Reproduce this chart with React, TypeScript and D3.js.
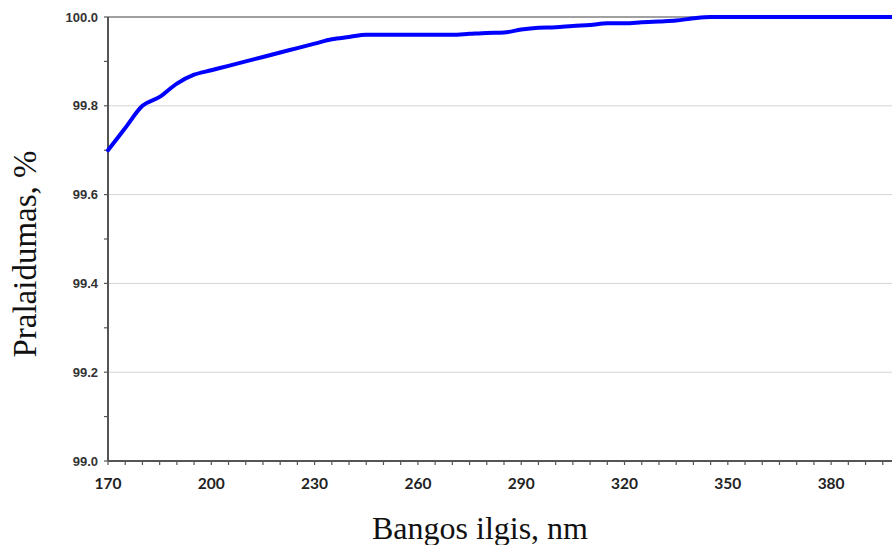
import { useEffect, useRef } from 'react';
import * as d3 from 'd3';

const wavelengths = [170, 175, 180, 185, 190, 195, 200, 205, 210, 215, 220, 225, 230, 235, 240, 245, 250, 255, 260, 265, 270, 275, 280, 285, 290, 295, 300, 305, 310, 315, 320, 325, 330, 335, 340, 345, 350, 360, 370, 380, 390, 400];
const transmittance = [99.70, 99.75, 99.80, 99.82, 99.85, 99.87, 99.88, 99.89, 99.90, 99.91, 99.92, 99.93, 99.94, 99.95, 99.955, 99.96, 99.96, 99.96, 99.96, 99.96, 99.96, 99.962, 99.964, 99.965, 99.972, 99.976, 99.977, 99.98, 99.982, 99.986, 99.986, 99.988, 99.99, 99.992, 99.997, 100.0, 100.0, 100.0, 100.0, 100.0, 100.0, 100.0];
const xTicks = [170, 200, 230, 260, 290, 320, 350, 380];
const yTicks = [99.0, 99.2, 99.4, 99.6, 99.8, 100.0];

const App = () => {
  const svgRef = useRef<SVGSVGElement>(null);

  useEffect(() => {
    const width = 892;
    const height = 545;
    const left = 108;
    const top = 17;
    const bottom = 461;

    const svg = d3.select(svgRef.current);
    svg.selectAll('*').remove();

    const x = d3.scaleLinear().domain([170, 400]).range([left, 900]);
    const y = d3.scaleLinear().domain([99.0, 100.0]).range([bottom, top]);

    // gridlines
    svg.append('g')
      .selectAll('line')
      .data(yTicks.slice(1))
      .join('line')
      .attr('x1', left).attr('x2', width)
      .attr('y1', d => y(d)).attr('y2', d => y(d))
      .attr('stroke', d => d === 100 ? '#a0a0a0' : '#d4d4d4')
      .attr('stroke-width', d => d === 100 ? 2 : 1);

    // x axis ticks every 5 nm
    svg.append('g')
      .selectAll('line')
      .data(d3.range(170, 401, 5))
      .join('line')
      .attr('x1', d => x(d)).attr('x2', d => x(d))
      .attr('y1', bottom).attr('y2', bottom + 4)
      .attr('stroke', '#555').attr('stroke-width', 1.2);

    // y axis ticks every 0.1
    svg.append('g')
      .selectAll('line')
      .data(d3.range(0, 11).map(i => 99 + i / 10))
      .join('line')
      .attr('x1', left - 4).attr('x2', left)
      .attr('y1', d => y(d)).attr('y2', d => y(d))
      .attr('stroke', '#555').attr('stroke-width', 1.2);

    // axis lines
    svg.append('line')
      .attr('x1', left).attr('x2', left).attr('y1', top).attr('y2', bottom)
      .attr('stroke', '#555').attr('stroke-width', 2);
    svg.append('line')
      .attr('x1', left).attr('x2', width).attr('y1', bottom).attr('y2', bottom)
      .attr('stroke', '#555').attr('stroke-width', 2);

    // tick labels
    svg.append('g')
      .selectAll('text')
      .data(yTicks)
      .join('text')
      .attr('x', left - 10)
      .attr('y', d => y(d))
      .attr('dy', '0.35em')
      .attr('text-anchor', 'end')
      .attr('font-family', 'Liberation Sans, Arial, sans-serif')
      .attr('font-weight', 'bold')
      .attr('font-size', 13)
      .attr('fill', '#333')
      .text(d => d.toFixed(1));

    svg.append('g')
      .selectAll('text')
      .data(xTicks)
      .join('text')
      .attr('x', d => x(d))
      .attr('y', 484)
      .attr('dy', '0.35em')
      .attr('text-anchor', 'middle')
      .attr('font-family', 'Lato, Open Sans, sans-serif')
      .attr('font-weight', 'bold')
      .attr('font-size', 15.5)
      .attr('fill', '#222')
      .text(d => d);

    // data line
    const line = d3.line<number>()
      .x((d, i) => x(wavelengths[i]))
      .y(d => y(d))
      .curve(d3.curveMonotoneX);

    svg.append('path')
      .datum(transmittance)
      .attr('d', line)
      .attr('fill', 'none')
      .attr('stroke', '#0000ff')
      .attr('stroke-width', 4)
      .attr('stroke-linejoin', 'round')
      .attr('stroke-linecap', 'round');

    // axis titles
    svg.append('text')
      .attr('x', 480)
      .attr('y', 539)
      .attr('text-anchor', 'middle')
      .attr('font-family', 'Liberation Serif, Times New Roman, serif')
      .attr('font-size', 32)
      .attr('fill', '#111')
      .text('Bangos ilgis, nm');

    svg.append('text')
      .attr('transform', 'translate(36,254) rotate(-90)')
      .attr('text-anchor', 'middle')
      .attr('font-family', 'Liberation Serif, Times New Roman, serif')
      .attr('font-size', 33)
      .attr('fill', '#111')
      .text('Pralaidumas, %');
  }, []);

  return (
    <svg
      ref={svgRef}
      width={892}
      height={545}
      style={{ position: 'absolute', left: 0, top: 0, background: '#fff' }}
    />
  );
};

export default App;
